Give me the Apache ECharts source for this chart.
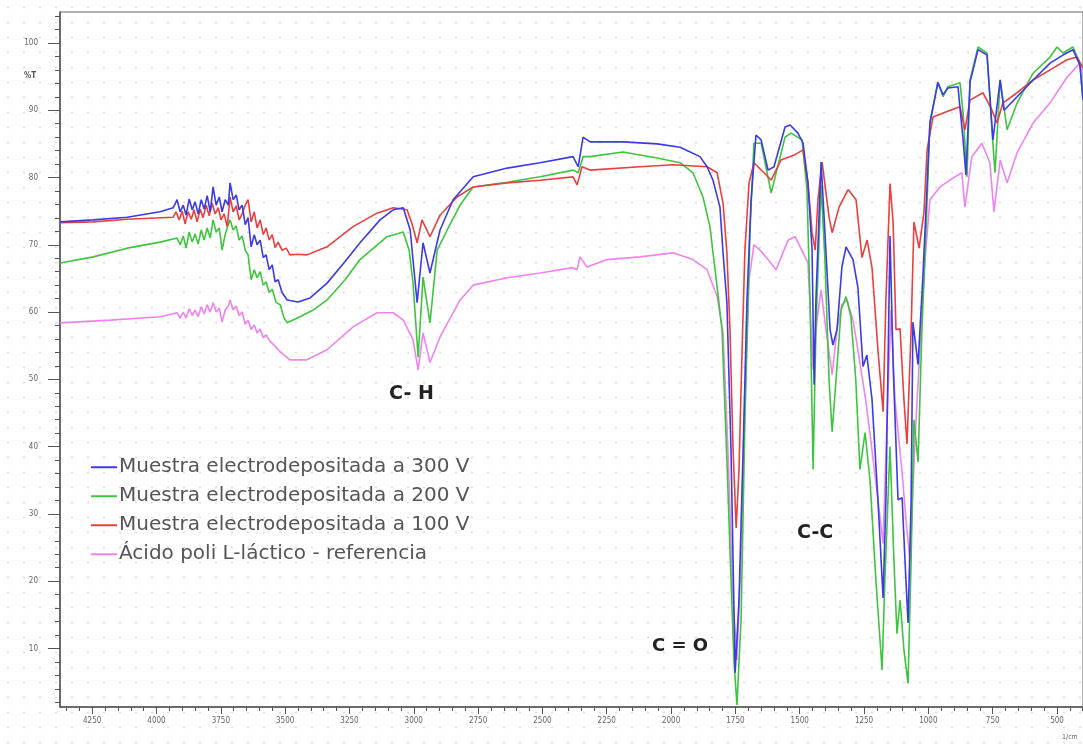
<!DOCTYPE html>
<html><head><meta charset="utf-8">
<script src="https://cdn.jsdelivr.net/npm/echarts@6/dist/echarts.min.js"></script>
<style>
html,body{margin:0;padding:0;background:#fff;}
body{background-image:radial-gradient(circle,#d9d9d9 0.9px,transparent 1.2px);background-size:16px 15px;}
#c{width:1083px;height:747px;}
</style></head><body><div id="c"></div>
<script>
// ---- data: [wavenumber cm-1, %T] ----
const seriesNames = ['Muestra electrodepositada a 300 V','Muestra electrodepositada a 200 V','Muestra electrodepositada a 100 V','Ácido poli L-láctico - referencia'];
const s300 = [[4374,73.4],[4246,73.7],[4114,74.1],[3986,74.9],[3935,75.5],[3920,76.7],[3908,74.9],[3896,75.9],[3885,74.4],[3873,76.8],[3861,75.2],[3850,76.4],[3838,74.6],[3826,76.7],[3815,75.3],[3803,77.3],[3791,74.9],[3780,78.6],[3768,75.9],[3756,77.1],[3745,74.9],[3733,76.7],[3721,75.9],[3714,79.2],[3702,76.7],[3690,77.4],[3679,75.2],[3667,75.9],[3655,73.0],[3644,74.0],[3632,69.7],[3620,71.5],[3609,70.0],[3597,70.7],[3585,68.1],[3574,68.5],[3562,66.3],[3550,67.0],[3539,64.5],[3527,64.8],[3512,62.9],[3492,61.8],[3450,61.5],[3403,62.1],[3337,64.3],[3267,67.5],[3209,70.3],[3131,73.7],[3080,75.2],[3041,75.5],[3014,72.2],[2987,61.4],[2964,70.3],[2937,65.8],[2898,72.2],[2847,76.7],[2769,80.1],[2637,81.4],[2509,82.2],[2381,83.1],[2361,81.6],[2342,86.0],[2315,85.3],[2187,85.3],[2054,85.0],[1965,84.5],[1888,83.1],[1860,81.6],[1837,79.6],[1810,75.6],[1798,68.8],[1783,61.4],[1767,39.5],[1751,6.4],[1736,17.2],[1720,39.5],[1705,61.8],[1689,76.7],[1670,86.3],[1650,85.6],[1623,81.1],[1600,81.6],[1557,87.5],[1537,87.8],[1507,86.6],[1487,85.1],[1468,79.2],[1452,69.2],[1444,49.2],[1437,61.8],[1417,82.3],[1402,71.8],[1382,57.4],[1371,55.1],[1355,57.4],[1336,66.7],[1320,69.7],[1293,67.8],[1274,63.7],[1254,51.9],[1239,53.6],[1219,47.0],[1196,32.1],[1176,17.5],[1165,32.1],[1149,71.3],[1137,52.2],[1118,32.1],[1102,32.4],[1091,23.2],[1079,13.8],[1067,32.1],[1060,58.5],[1040,52.2],[1021,65.5],[1005,78.8],[994,88.1],[963,94.1],[943,92.3],[924,93.3],[885,93.5],[865,85.6],[854,80.4],[838,94.2],[807,99.0],[772,98.2],[749,85.6],[721,94.5],[706,90.0],[655,92.0],[593,94.5],[527,97.0],[477,98.2],[438,99.0],[411,96.7],[399,91.5]];
const s200 = [[4374,67.3],[4246,68.2],[4114,69.5],[3986,70.4],[3920,71.0],[3908,70.0],[3896,71.3],[3885,69.5],[3873,71.9],[3861,70.4],[3850,71.6],[3838,70.1],[3826,72.2],[3815,70.7],[3803,72.5],[3791,71.0],[3780,73.7],[3768,71.9],[3756,72.5],[3745,69.2],[3733,71.5],[3721,73.0],[3714,73.7],[3702,72.2],[3690,72.8],[3679,70.7],[3667,71.3],[3655,69.2],[3644,68.5],[3632,64.8],[3620,66.3],[3609,65.1],[3597,66.0],[3585,64.0],[3574,64.5],[3562,62.9],[3550,63.4],[3535,61.4],[3519,61.1],[3504,59.1],[3492,58.4],[3442,59.3],[3391,60.3],[3337,61.8],[3267,64.8],[3209,67.8],[3104,71.2],[3041,71.9],[3018,69.2],[3003,64.3],[2983,53.3],[2964,65.2],[2937,58.4],[2909,69.2],[2870,72.2],[2820,75.9],[2769,78.6],[2637,79.3],[2509,80.1],[2381,81.1],[2361,80.7],[2342,83.1],[2315,83.1],[2187,83.8],[2054,82.9],[1965,82.2],[1915,80.7],[1876,77.1],[1849,72.7],[1821,63.7],[1802,57.4],[1783,38.0],[1767,20.2],[1756,8.3],[1744,1.6],[1728,14.3],[1713,44.0],[1693,72.2],[1678,85.1],[1650,85.1],[1611,77.7],[1557,86.0],[1534,86.6],[1491,85.6],[1472,78.2],[1460,61.8],[1448,36.6],[1437,57.4],[1417,78.9],[1402,67.8],[1386,49.9],[1374,42.2],[1359,49.9],[1339,60.3],[1320,62.3],[1301,59.3],[1282,49.9],[1266,36.6],[1246,42.1],[1227,35.1],[1204,20.2],[1180,6.8],[1169,20.2],[1149,40.0],[1134,23.2],[1122,12.2],[1110,17.2],[1095,9.8],[1079,4.8],[1067,23.2],[1056,44.0],[1040,37.7],[1025,57.4],[1009,72.2],[994,88.1],[963,94.2],[943,92.0],[924,93.5],[877,94.1],[865,89.6],[850,80.1],[838,94.5],[807,99.4],[772,98.5],[753,87.1],[741,80.7],[721,94.5],[694,87.1],[655,91.1],[593,95.5],[527,97.9],[500,99.4],[477,98.5],[438,99.4],[411,97.0],[399,91.5]];
const s100 = [[4374,73.3],[4246,73.4],[4114,73.8],[3935,74.1],[3924,74.9],[3912,73.7],[3900,75.0],[3889,73.1],[3877,74.9],[3865,73.8],[3854,75.2],[3842,73.4],[3830,75.3],[3819,74.0],[3807,75.9],[3795,74.3],[3784,76.2],[3772,74.6],[3760,75.5],[3749,73.7],[3737,74.6],[3725,72.7],[3714,77.1],[3702,74.9],[3690,75.8],[3679,73.7],[3667,74.6],[3655,75.9],[3644,76.7],[3632,73.4],[3620,74.9],[3609,72.5],[3597,73.7],[3585,71.5],[3574,72.5],[3562,70.7],[3550,71.5],[3539,69.6],[3527,70.4],[3512,69.2],[3496,69.5],[3481,68.5],[3453,68.6],[3415,68.5],[3337,69.7],[3236,72.7],[3143,74.7],[3080,75.5],[3026,75.2],[3006,73.0],[2987,70.3],[2968,73.7],[2937,71.2],[2898,74.4],[2832,77.1],[2769,78.6],[2637,79.2],[2509,79.6],[2381,80.1],[2365,78.9],[2346,81.6],[2315,81.1],[2121,81.6],[1992,81.9],[1860,81.6],[1821,80.7],[1798,76.2],[1783,68.8],[1771,57.4],[1759,39.5],[1747,27.9],[1736,36.6],[1724,54.4],[1713,69.2],[1697,79.2],[1678,82.2],[1639,80.7],[1611,79.6],[1573,82.6],[1518,83.4],[1487,84.1],[1468,79.2],[1452,71.8],[1440,69.2],[1429,76.7],[1413,82.3],[1386,74.1],[1374,71.8],[1347,75.6],[1312,78.2],[1281,76.7],[1258,68.1],[1238,70.7],[1219,66.6],[1196,54.4],[1176,45.2],[1165,61.8],[1149,79.1],[1137,73.4],[1126,57.4],[1110,57.5],[1095,47.0],[1083,40.4],[1067,57.4],[1056,73.4],[1036,69.5],[1017,74.9],[1005,84.1],[982,89.0],[935,89.7],[877,90.5],[858,87.1],[838,91.5],[788,92.6],[753,90.0],[733,88.1],[710,91.1],[655,92.6],[593,94.5],[527,96.0],[461,97.5],[422,97.9],[399,96.3]];
const sRef = [[4374,58.4],[4180,58.8],[3986,59.3],[3920,59.9],[3908,59.1],[3896,60.0],[3885,59.1],[3873,60.5],[3861,59.5],[3850,60.3],[3838,59.3],[3826,60.8],[3815,59.7],[3803,61.1],[3791,60.0],[3780,61.4],[3768,60.0],[3756,60.6],[3745,58.5],[3733,60.3],[3721,60.9],[3714,61.8],[3702,60.3],[3690,60.9],[3679,59.5],[3667,60.0],[3655,58.2],[3644,58.8],[3632,57.4],[3620,58.1],[3609,56.9],[3597,57.5],[3585,56.2],[3574,56.6],[3558,55.6],[3543,55.1],[3527,54.4],[3504,53.6],[3481,52.9],[3415,52.9],[3337,54.4],[3236,57.8],[3143,59.9],[3080,59.9],[3041,58.8],[3003,55.9],[2983,51.4],[2964,56.9],[2937,52.5],[2898,56.3],[2820,61.8],[2769,64.0],[2637,65.1],[2509,65.8],[2381,66.6],[2365,66.3],[2354,68.2],[2327,66.7],[2249,67.8],[2121,68.2],[1992,68.8],[1915,67.8],[1860,66.3],[1821,62.3],[1798,56.9],[1779,39.5],[1759,17.2],[1744,8.3],[1728,23.2],[1713,47.0],[1697,64.8],[1678,70.0],[1654,69.2],[1623,67.8],[1592,66.3],[1545,70.7],[1518,71.2],[1487,68.8],[1468,67.3],[1448,51.4],[1433,58.8],[1417,63.3],[1398,57.4],[1374,50.7],[1355,57.4],[1336,61.1],[1316,61.8],[1293,58.8],[1274,54.4],[1243,46.8],[1219,39.5],[1196,32.1],[1176,25.6],[1161,44.0],[1145,60.3],[1130,47.0],[1102,36.1],[1087,29.1],[1071,22.9],[1052,41.0],[1036,52.2],[1013,67.8],[994,76.7],[955,78.6],[897,80.1],[870,80.7],[858,75.6],[831,83.1],[792,85.1],[761,82.2],[745,74.9],[721,82.6],[694,79.2],[655,83.7],[593,88.1],[527,91.1],[461,94.9],[411,97.0],[399,95.5]];
const xTickLabels = [4250,4000,3750,3500,3250,3000,2750,2500,2250,2000,1750,1500,1250,1000,750,500];
const xMinorTicks = [4350,4300,4200,4150,4100,4050,3950,3900,3850,3800,3700,3650,3600,3550,3450,3400,3350,3300,3200,3150,3100,3050,2950,2900,2850,2800,2700,2650,2600,2550,2450,2400,2350,2300,2200,2150,2100,2050,1950,1900,1850,1800,1700,1650,1600,1550,1450,1400,1350,1300,1200,1150,1100,1050,950,900,850,800,700,650,600,550,450,400];
const yTickLabels = [10,20,30,40,50,60,70,80,90,100];
const yMinorTicks = [2,4,6,8,12,14,16,18,22,24,26,28,32,34,36,38,42,44,46,48,52,54,56,58,62,64,66,68,72,74,76,78,82,84,86,88,92,94,96,98,102,104];
const colors = ['#3b3be6','#3fc43f','#ea3f3f','#ee84ee'];

const X_MIN = 399, X_MAX = 4375, Y_MIN = 1.3, Y_MAX = 104.6;
const chart = echarts.init(document.getElementById('c'), null, {renderer:'canvas'});
const tickFont = {fontSize:8, color:'#666', fontFamily:'DejaVu Sans Condensed', formatter:(v)=>String(v)};
const datasets = [s300, s200, s100, sRef];
const zs = [5,3,4,2];
const option = {
  backgroundColor:'transparent',
  animation:false,
  grid:{left:60, right:0, top:12, bottom:40, show:true, borderColor:'#666', borderWidth:1, backgroundColor:'transparent'},
  xAxis:[
    {type:'value', inverse:true, min:X_MIN, max:X_MAX, position:'bottom',
     axisLine:{lineStyle:{color:'#555', width:1.5}},
     axisTick:{show:true, customValues:xTickLabels, length:7, lineStyle:{color:'#555'}},
     axisLabel:{customValues:xTickLabels, margin:10, ...tickFont},
     splitLine:{show:false}},
    {type:'value', inverse:true, min:X_MIN, max:X_MAX, position:'bottom',
     axisLine:{show:false},
     axisTick:{show:true, customValues:xMinorTicks, length:4, lineStyle:{color:'#555'}},
     axisLabel:{show:false}, splitLine:{show:false}}
  ],
  yAxis:[
    {type:'value', min:Y_MIN, max:Y_MAX,
     axisLine:{show:true, lineStyle:{color:'#555', width:1.5}},
     axisTick:{show:true, customValues:yTickLabels, length:12, lineStyle:{color:'#555'}},
     axisLabel:{customValues:yTickLabels, margin:22, ...tickFont},
     splitLine:{show:false}},
    {type:'value', min:Y_MIN, max:Y_MAX, position:'left',
     axisLine:{show:false},
     axisTick:{show:true, customValues:yMinorTicks, length:5, lineStyle:{color:'#555'}},
     axisLabel:{show:false}, splitLine:{show:false}}
  ],
  legend:{
    orient:'vertical', left:86, top:452, itemGap:8.5, itemWidth:26, itemHeight:2,
    icon:'rect', data:seriesNames,
    textStyle:{fontSize:20, color:'#555', fontFamily:'DejaVu Sans', lineHeight:20.5, padding:[0,0,0,-3]}
  },
  series: seriesNames.map((n,i)=>({
    name:n, type:'line', data:datasets[i], showSymbol:false, z:zs[i],
    xAxisIndex:0, yAxisIndex:0,
    lineStyle:{color:colors[i], width:1.6}, itemStyle:{color:colors[i]}
  })),
  graphic:[
    {type:'text', left:24, top:72, style:{text:'%T', fontSize:8, fontWeight:'bold', fill:'#555', fontFamily:'DejaVu Sans Condensed'}},
    {type:'text', left:1062, top:734, style:{text:'1/cm', fontSize:7, fill:'#666', fontFamily:'DejaVu Sans Condensed'}},
    {type:'text', left:389, top:385, style:{text:'C- H', fontSize:19, fontWeight:'bold', fill:'#222', fontFamily:'DejaVu Sans'}},
    {type:'text', left:652, top:637, style:{text:'C = O', fontSize:18, fontWeight:'bold', fill:'#222', fontFamily:'DejaVu Sans'}},
    {type:'text', left:797, top:524, style:{text:'C-C', fontSize:19, fontWeight:'bold', fill:'#222', fontFamily:'DejaVu Sans'}}
  ]
};
chart.setOption(option);
</script></body></html>
